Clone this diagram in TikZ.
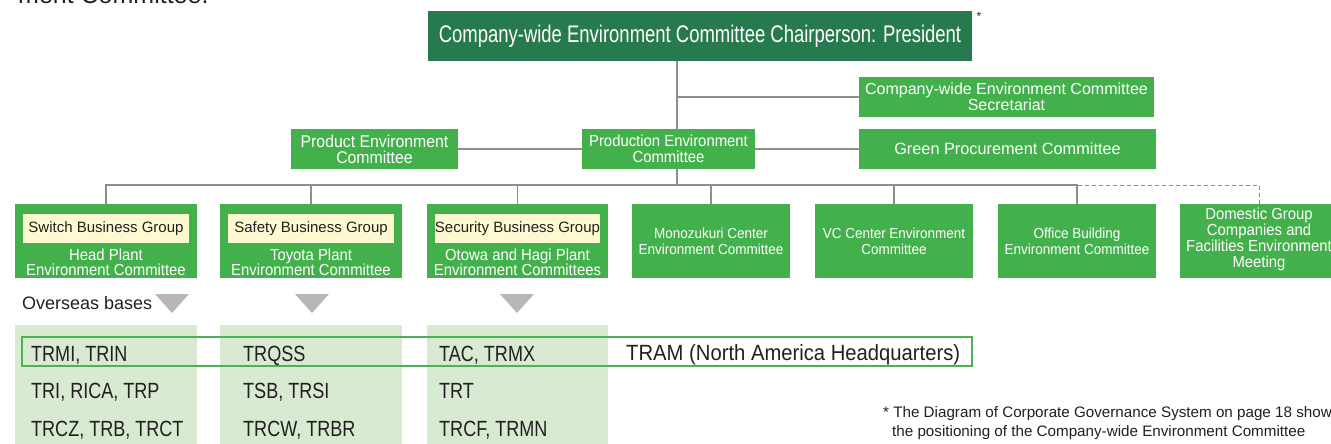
\documentclass[tikz,border=0pt]{standalone}
\usepackage{fontspec}
\setmainfont{Liberation Sans}
\newfontfamily\condfont[FakeStretch=0.77]{Liberation Sans}
\newfontfamily\semicond[FakeStretch=0.93]{Liberation Sans}
\newfontfamily\rowfont[FakeStretch=0.82]{Liberation Sans}
\newfontfamily\tramfont[FakeStretch=0.92]{Liberation Sans}

\definecolor{darkgreen}{HTML}{267A4E}
\definecolor{midgreen}{HTML}{43B14B}
\definecolor{creamfill}{HTML}{FFF9D2}
\definecolor{panelgreen}{HTML}{D8EAD2}
\definecolor{linegray}{HTML}{8E8E8E}
\definecolor{trigray}{HTML}{B7B7BA}
\definecolor{outlinegreen}{HTML}{4DB256}
\definecolor{inkdark}{HTML}{231F20}

\begin{document}
\begin{tikzpicture}[x=1pt,y=-1pt,
  conn/.style={draw=linegray, line width=1.3pt},
  chairbox/.style={fill=darkgreen, text=white, inner sep=0pt,
    minimum width=544pt, minimum height=50pt,
    font=\condfont\fontsize{24}{24}\selectfont},
  greenbox/.style={fill=midgreen, text=white, inner sep=0pt, align=center,
    minimum height=40pt},
  groupbox/.style={fill=midgreen, inner sep=0pt, minimum height=74pt},
  creamlabel/.style={fill=creamfill, text=inkdark, inner sep=0pt,
    minimum width=166pt, minimum height=29pt,
    font=\fontsize{15}{15}\selectfont},
  grouptext/.style={text=white, inner sep=0pt, align=center,
    font=\semicond\fontsize{16}{15}\selectfont},
  unittext/.style={text=white, inner sep=0pt, align=center,
    font=\semicond\fontsize{14.5}{15.5}\selectfont},
  panel/.style={fill=panelgreen, inner sep=0pt, minimum width=182pt,
    minimum height=119pt},
  rowtext/.style={text=inkdark, inner sep=0pt, anchor=base west,
    font=\rowfont\fontsize{22}{22}\selectfont},
  downtri/.style={fill=trigray},
  notetext/.style={text=inkdark, inner sep=0pt, anchor=base west,
    font=\fontsize{15.2}{15.2}\selectfont}
]
\useasboundingbox (0,0) rectangle (1331,444);
\clip (0,0) rectangle (1331,444);

% running text above the chart
\node[text=inkdark, inner sep=0pt, anchor=base west,
      font=\fontsize{25}{25}\selectfont] (lead) at (18,4) {ment Committee.};

% top of the organisation
\node[chairbox] (chair) at (700,36) {Company-wide Environment Committee Chairperson: President};
\node[text=inkdark, inner sep=0pt, font=\fontsize{12}{12}\selectfont] (star) at (979,16) {*};

\coordinate (bus) at (677,185);

\node[greenbox, minimum width=295pt, font=\fontsize{16}{16}\selectfont]
  (secr) at (1006.5,97) {Company-wide Environment Committee\\Secretariat};
\node[greenbox, minimum width=167pt, font=\semicond\fontsize{17}{16}\selectfont]
  (product) at (374.5,149) {Product Environment\\Committee};
\node[greenbox, minimum width=173pt, font=\semicond\fontsize{16}{16}\selectfont]
  (production) at (668.5,149) {Production Environment\\Committee};
\node[greenbox, minimum width=297pt, font=\fontsize{16.3}{16}\selectfont]
  (greenproc) at (1007.5,149) {Green Procurement Committee};

% business groups
\node[groupbox, minimum width=182pt] (g1) at (106,241) {};
\node[groupbox, minimum width=182pt] (g2) at (311,241) {};
\node[groupbox, minimum width=181pt] (g3) at (517.5,241) {};
\node[creamlabel] (l1) at (106,228.5) {Switch Business Group};
\node[creamlabel] (l2) at (311,228.5) {Safety Business Group};
\node[creamlabel, minimum width=165pt] (l3) at (517.5,228.5) {Security Business Group};
\node[grouptext] (t1) at (106,262) {Head Plant\\Environment Committee};
\node[grouptext] (t2) at (311,262) {Toyota Plant\\Environment Committee};
\node[grouptext] (t3) at (517.5,262) {Otowa and Hagi Plant\\Environment Committees};

% site committees
\node[groupbox, minimum width=158pt] (g4) at (711,241) {};
\node[groupbox, minimum width=158pt] (g5) at (894,241) {};
\node[groupbox, minimum width=158pt] (g6) at (1077,241) {};
\node[groupbox, minimum width=158pt] (g7) at (1259,241) {};
\node[unittext] (t4) at (711,241.5) {Monozukuri Center\\Environment Committee};
\node[unittext] (t5) at (894,241.5) {VC Center Environment\\Committee};
\node[unittext] (t6) at (1077,241.5) {Office Building\\Environment Committee};
\node[unittext, font=\semicond\fontsize{16}{16}\selectfont] (t7) at (1259,239)
  {Domestic Group\\Companies and\\Facilities Environment\\Meeting};

% connectors
\draw[conn] (chair.south -| bus) -- (production.north -| bus);
\draw[conn] (production.south -| bus) -- (bus);
\draw[conn] (secr.west) -- (secr.west -| bus);
\draw[conn] (product.east) -- (production.west);
\draw[conn] (production.east) -- (greenproc.west);
\draw[conn] (g1.north) |- (bus);
\draw[conn] (g2.north) |- (bus);
\draw[conn] (g3.north) |- (bus);
\draw[conn] (g4.north) |- (bus);
\draw[conn] (g5.north) |- (bus);
\draw[conn] (g6.north) |- (bus);
\draw[conn, line width=1pt, dash pattern=on 4pt off 3pt] (g7.north) |- (g6.north |- bus);

% overseas bases
\node[text=inkdark, inner sep=0pt, anchor=base west,
      font=\fontsize{18}{18}\selectfont] (overseas) at (22,309) {Overseas bases};
\fill[downtri] (155,294) -- (189,294) -- (172,313) -- cycle;
\fill[downtri] (295,294) -- (329,294) -- (312,313) -- cycle;
\fill[downtri] (500,294) -- (534,294) -- (517,313) -- cycle;

\node[panel] (p1) at (106,384.5) {};
\node[panel] (p2) at (311,384.5) {};
\node[panel, minimum width=181pt] (p3) at (517.5,384.5) {};

\node[draw=outlinegreen, line width=1.5pt, inner sep=0pt,
      minimum width=950pt, minimum height=29pt] (tram) at (497,351.5) {};
\node[rowtext, font=\tramfont\fontsize{22}{22}\selectfont] (tramtext) at (626,360)
  {TRAM (North America Headquarters)};

\node[rowtext] (r11) at (31,361) {TRMI, TRIN};
\node[rowtext] (r12) at (31,398.5) {TRI, RICA, TRP};
\node[rowtext] (r13) at (31,436) {TRCZ, TRB, TRCT};
\node[rowtext] (r21) at (243,361) {TRQSS};
\node[rowtext] (r22) at (243,398.5) {TSB, TRSI};
\node[rowtext] (r23) at (243,436) {TRCW, TRBR};
\node[rowtext] (r31) at (439,361) {TAC, TRMX};
\node[rowtext] (r32) at (439,398.5) {TRT};
\node[rowtext] (r33) at (439,436) {TRCF, TRMN};

% footnote
\node[notetext] (fn1) at (883,417) {* The Diagram of Corporate Governance System on page 18 shows};
\node[notetext] (fn2) at (892,436) {the positioning of the Company-wide Environment Committee};
\end{tikzpicture}
\end{document}
